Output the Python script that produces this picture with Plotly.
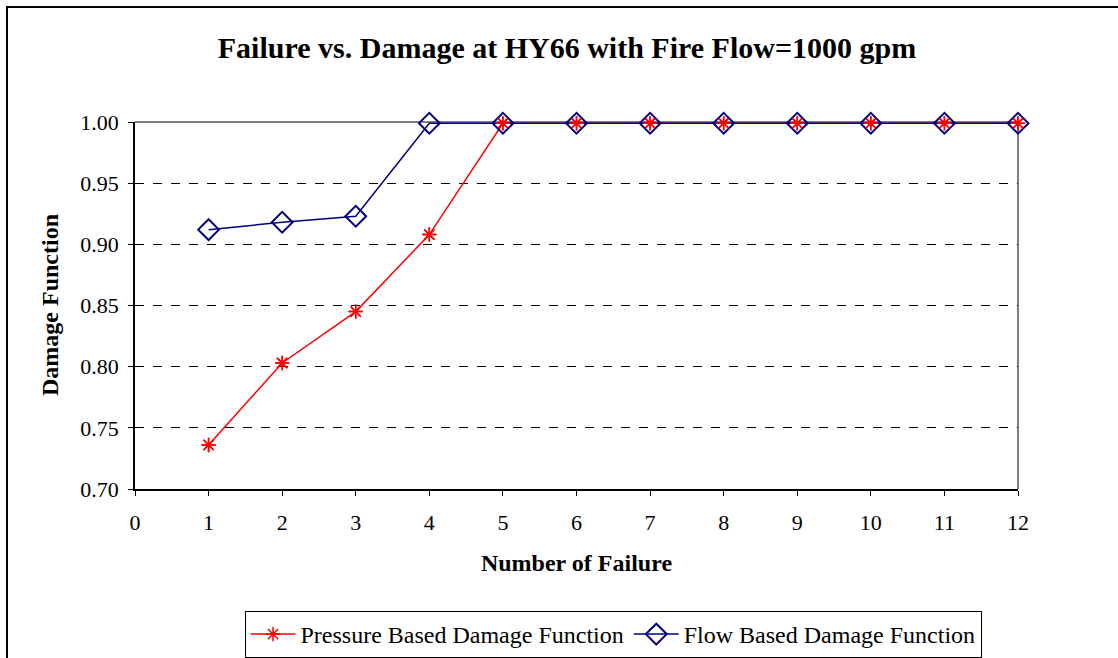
import plotly.graph_objects as go

failures = [1, 2, 3, 4, 5, 6, 7, 8, 9, 10, 11, 12]
pressure_damage = [0.736, 0.803, 0.845, 0.908, 0.999, 0.999, 0.999, 0.999, 0.999, 0.999, 0.999, 0.999]
flow_damage = [0.912, 0.918, 0.923, 0.999, 0.999, 0.999, 0.999, 0.999, 0.999, 0.999, 0.999, 0.999]
y_ticks = [0.70, 0.75, 0.80, 0.85, 0.90, 0.95, 1.00]
x_ticks = list(range(0, 13))

FONT = "Liberation Serif, Times New Roman, serif"
RED = "#ff0000"
BLUE = "#000080"

fig = go.Figure()
fig.add_trace(go.Scatter(
    x=failures, y=pressure_damage, mode="lines+markers",
    name="Pressure Based Damage Function", legendrank=1, cliponaxis=False,
    line=dict(color=RED, width=1.5),
    marker=dict(symbol="asterisk-open", size=12, color=RED, line=dict(color=RED, width=1.5)),
))
fig.add_trace(go.Scatter(
    x=failures, y=flow_damage, mode="lines+markers",
    name="Flow Based Damage Function", legendrank=2, cliponaxis=False,
    line=dict(color=BLUE, width=1.5),
    marker=dict(symbol="diamond-open", size=16, color=BLUE, line=dict(color=BLUE, width=2)),
))
fig.add_trace(go.Scatter(
    x=failures, y=pressure_damage, mode="markers", showlegend=False, cliponaxis=False,
    marker=dict(symbol="asterisk-open", size=12, color=RED, line=dict(color=RED, width=1.5)),
))

L, R, T, B = 135, 100, 122, 169
W, H = 1118, 658
pw, ph = W - L - R, H - T - B

fig.update_layout(
    width=W, height=H,
    margin=dict(l=L, r=R, t=T, b=B, autoexpand=False),
    paper_bgcolor="white", plot_bgcolor="white",
    font=dict(family=FONT, size=22, color="black"),
    title=dict(text="<b>Failure vs. Damage at HY66 with Fire Flow=1000 gpm</b>",
               x=567 / W, xanchor="center", y=1 - 47 / H, yanchor="middle",
               font=dict(size=30, family=FONT)),
    xaxis=dict(range=[0, 12], tickvals=x_ticks, ticks="outside", ticklen=5,
               tickcolor="black", showline=True, linecolor="black", linewidth=1.5,
               showgrid=False, zeroline=False, automargin=False, ticklabelstandoff=8,
               tickfont=dict(size=22),
               title=dict(text="<b>Number of Failure</b>", font=dict(size=24), standoff=20)),
    yaxis=dict(range=[0.70, 1.00], tickvals=y_ticks, tickformat=".2f", ticks="outside",
               ticklen=5, tickcolor="black", showline=True, linecolor="black", linewidth=1.5,
               showgrid=True, gridcolor="black", griddash="dash", gridwidth=1,
               zeroline=False, automargin=False, ticklabelstandoff=5, tickfont=dict(size=22)),
    legend=dict(orientation="h", x=(613 - L) / pw, xanchor="center",
                yref="container", y=1 - 611 / H, yanchor="top",
                bordercolor="black", borderwidth=1, bgcolor="white",
                font=dict(size=24, family=FONT), itemwidth=45),
    showlegend=True,
)

# y-axis title placed as rotated text
fig.add_annotation(text="<b>Damage Function</b>", textangle=-90, showarrow=False,
                   xref="paper", yref="paper", x=(50 - L) / pw, y=(H - B - 305) / ph,
                   xanchor="center", yanchor="middle", font=dict(size=24, family=FONT))

# plot-area border (top and right) in gray
fig.add_shape(type="line", xref="paper", yref="paper", x0=0, x1=1, y0=1, y1=1,
              line=dict(color="#808080", width=2), layer="between")
fig.add_shape(type="line", xref="paper", yref="paper", x0=1, x1=1, y0=0, y1=1,
              line=dict(color="#808080", width=2), layer="between")
# outer chart border
fig.add_shape(type="rect", xref="paper", yref="paper",
              x0=(7 - L) / pw, x1=(W + 10 - L) / pw,
              y0=-(H + 10 - (H - B)) / ph, y1=1 + (T - 7) / ph,
              line=dict(color="black", width=2), layer="below")

fig.write_html("out.html", config={"displayModeBar": False},
               post_script="document.body.style.margin='0';document.body.style.overflow='hidden';")
